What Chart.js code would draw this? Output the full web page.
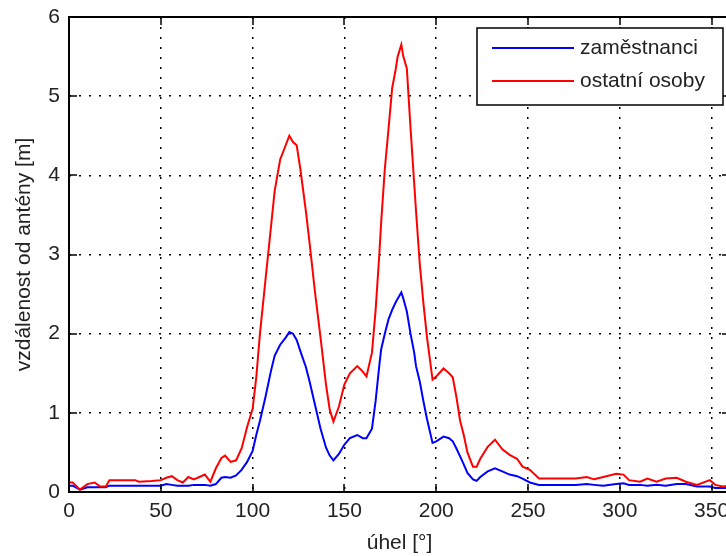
<!DOCTYPE html>
<html>
<head>
<meta charset="utf-8">
<script src="https://cdn.jsdelivr.net/npm/chart.js@4/dist/chart.umd.min.js"></script>
<style>
  html, body { margin: 0; padding: 0; background: #fff; overflow: hidden; width: 726px; height: 556px; }
  canvas { display: block; }
</style>
</head>
<body>
<canvas id="chart" width="760" height="556"></canvas>
<script>
// angle [°] and distance [m]
const angles = [0, 2, 6, 10, 14, 17, 20, 22, 30, 36, 38, 45, 50, 53, 56, 59, 62, 65, 68, 71, 74, 77, 80, 83, 85, 88, 91, 94, 97, 100,
  102, 104, 107, 110, 112, 115, 118, 120, 122, 124, 126, 129, 131, 134, 137, 140, 142, 144, 147, 150, 153, 157, 160, 162, 165,
  167, 169, 170, 172, 174, 176, 178, 179, 181, 182, 184, 186, 188, 189, 191, 193, 195, 198, 200, 204, 207, 209, 211, 213, 215,
  217, 220, 222, 224, 228, 232, 236, 240, 244, 247, 251, 256, 260, 265, 270, 276, 282, 286, 291, 298, 302, 305, 311, 315, 320,
  325, 331, 336, 342, 349, 352, 356, 360];

const employees = [0.08, 0.08, 0.03, 0.06, 0.06, 0.06, 0.06, 0.08, 0.08, 0.08, 0.08, 0.08, 0.08, 0.1, 0.09, 0.08, 0.08, 0.08, 0.09, 0.09, 0.09, 0.08, 0.1, 0.18, 0.19, 0.18, 0.21, 0.28, 0.38, 0.52,
  0.72, 0.9, 1.2, 1.53, 1.72, 1.86, 1.95, 2.02, 2.0, 1.92, 1.78, 1.58, 1.4, 1.1, 0.8, 0.56, 0.46, 0.4, 0.48, 0.6, 0.68, 0.72, 0.68, 0.68, 0.8,
  1.15, 1.6, 1.8, 2.0, 2.18, 2.3, 2.4, 2.44, 2.52, 2.45, 2.28, 2.0, 1.76, 1.59, 1.4, 1.15, 0.92, 0.62, 0.64, 0.7, 0.68, 0.64, 0.55, 0.45, 0.35,
  0.24, 0.16, 0.14, 0.19, 0.26, 0.3, 0.26, 0.22, 0.2, 0.17, 0.12, 0.09, 0.09, 0.09, 0.09, 0.09, 0.1, 0.09, 0.08, 0.1, 0.11, 0.09, 0.09, 0.08, 0.09,
  0.08, 0.1, 0.1, 0.07, 0.07, 0.05, 0.05, 0.05];

const others = [0.12, 0.12, 0.03, 0.1, 0.12, 0.07, 0.07, 0.15, 0.15, 0.15, 0.13, 0.14, 0.15, 0.18, 0.2, 0.15, 0.12, 0.19, 0.16, 0.19, 0.22, 0.13, 0.3, 0.43, 0.46, 0.38, 0.4, 0.55, 0.82, 1.05,
  1.45, 2.0, 2.68, 3.35, 3.8, 4.2, 4.38, 4.5, 4.42, 4.38, 4.08, 3.55, 3.15, 2.52, 1.95, 1.35, 1.04, 0.89, 1.08, 1.36, 1.5, 1.59, 1.52, 1.46, 1.76,
  2.3, 3.0, 3.4, 4.08, 4.58, 5.1, 5.35, 5.5, 5.65, 5.51, 5.35, 4.6, 3.9, 3.55, 2.89, 2.39, 1.95, 1.42, 1.46, 1.56, 1.5, 1.45, 1.2, 0.9, 0.72,
  0.5, 0.32, 0.32, 0.42, 0.57, 0.66, 0.54, 0.47, 0.42, 0.32, 0.28, 0.17, 0.17, 0.17, 0.17, 0.17, 0.19, 0.16, 0.19, 0.23, 0.22, 0.15, 0.13, 0.17, 0.13,
  0.17, 0.18, 0.13, 0.09, 0.15, 0.09, 0.07, 0.08];

const seriesNames = ["zaměstnanci", "ostatní osoby"];
const xTicks = [0, 50, 100, 150, 200, 250, 300, 350];
const yTicks = [0, 1, 2, 3, 4, 5, 6];
const xTitle = "úhel [°]";
const yTitle = "vzdálenost od antény [m]";

const FONT = { family: "'Liberation Sans', Arial, sans-serif", size: 21 };
const TEXT = "#222";

// axes box, inward ticks and the boxed legend, MATLAB style
const matlabAxes = {
  id: "matlabAxes",
  afterDatasetsDraw(chart) {
    const { ctx, chartArea: a, scales: { x, y } } = chart;
    ctx.save();
    ctx.strokeStyle = "#000";
    ctx.lineWidth = 1.5;
    ctx.beginPath();
    xTicks.forEach(v => {
      const px = Math.round(x.getPixelForValue(v));
      ctx.moveTo(px, a.bottom); ctx.lineTo(px, a.bottom - 8);
      ctx.moveTo(px, a.top); ctx.lineTo(px, a.top + 8);
    });
    yTicks.forEach(v => {
      const py = Math.round(y.getPixelForValue(v));
      ctx.moveTo(a.left, py); ctx.lineTo(a.left + 8, py);
      ctx.moveTo(a.right, py); ctx.lineTo(a.right - 8, py);
    });
    ctx.stroke();
    ctx.lineWidth = 2;
    ctx.strokeRect(a.left, a.top, a.right - a.left, a.bottom - a.top);

    // legend
    const right = a.right - 7, top = a.top + 11, w = 246, h = 77;
    const left = right - w;
    ctx.fillStyle = "#fff";
    ctx.fillRect(left, top, w, h);
    ctx.lineWidth = 1.5;
    ctx.strokeRect(left, top, w, h);
    ctx.font = `${FONT.size}px ${FONT.family}`;
    ctx.textBaseline = "middle";
    ctx.textAlign = "left";
    chart.data.datasets.forEach((ds, i) => {
      const ly = top + 20 + i * 33;
      ctx.strokeStyle = ds.borderColor;
      ctx.lineWidth = 2;
      ctx.beginPath();
      ctx.moveTo(left + 15, ly); ctx.lineTo(left + 97, ly);
      ctx.stroke();
      ctx.fillStyle = TEXT;
      ctx.fillText(ds.label, left + 103, ly);
    });
    ctx.restore();
  }
};

const toPoints = vals => angles.map((a, i) => ({ x: a, y: vals[i] }));

new Chart(document.getElementById("chart"), {
  type: "line",
  data: {
    datasets: [
      { label: seriesNames[0], data: toPoints(employees), borderColor: "#0000ff", borderWidth: 2, pointRadius: 0, tension: 0, fill: false, order: 1 },
      { label: seriesNames[1], data: toPoints(others), borderColor: "#ff0000", borderWidth: 2, pointRadius: 0, tension: 0, fill: false, order: 0 }
    ]
  },
  options: {
    responsive: false,
    animation: false,
    devicePixelRatio: 1,
    layout: { padding: { top: 17, right: 30, left: 0, bottom: 0 } },
    plugins: { legend: { display: false }, tooltip: { enabled: false } },
    scales: {
      x: {
        type: "linear",
        min: 0, max: 360,
        afterBuildTicks: s => { s.ticks = xTicks.map(v => ({ value: v })); },
        afterFit: s => { s.height = 64; s.paddingLeft = 0; s.paddingRight = 0; },
        grid: { color: "#000", lineWidth: 1.5, drawTicks: false },
        border: { display: false, dash: [2, 8] },
        ticks: { color: TEXT, font: FONT, padding: 7, autoSkip: false, maxRotation: 0 },
        title: { display: true, text: xTitle, color: TEXT, font: FONT, padding: { top: 0, bottom: 0 } }
      },
      y: {
        type: "linear",
        min: 0, max: 6,
        afterBuildTicks: s => { s.ticks = yTicks.map(v => ({ value: v })); },
        afterFit: s => { s.width = 69; s.paddingTop = 0; s.paddingBottom = 0; },
        grid: { color: "#000", lineWidth: 1.5, drawTicks: false },
        border: { display: false, dash: [2, 8] },
        ticks: { color: TEXT, font: FONT, padding: 9 },
        title: { display: true, text: yTitle, color: TEXT, font: FONT, padding: { top: 12, bottom: 0 } }
      }
    }
  },
  plugins: [matlabAxes]
});
</script>
</body>
</html>
